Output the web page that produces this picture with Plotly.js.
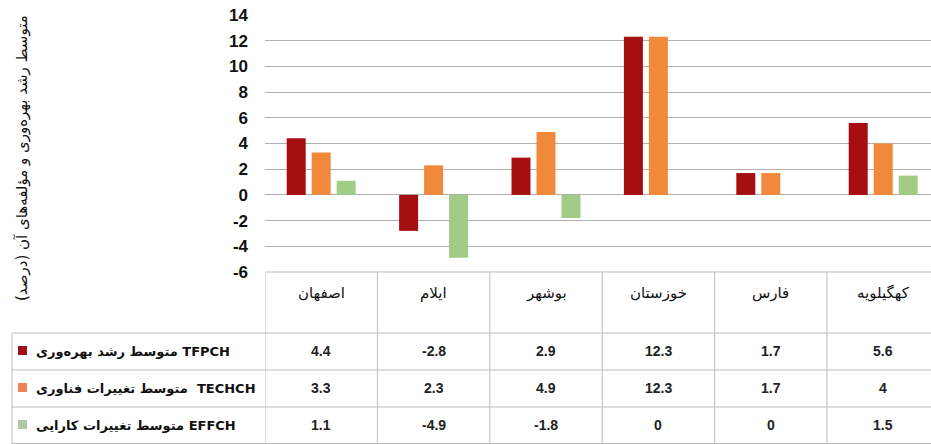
<!DOCTYPE html>
<html>
<head>
<meta charset="utf-8">
<script src="https://cdn.plot.ly/plotly-3.0.1.min.js"></script>
<style>html,body{margin:0;padding:0;background:#fff;}#chart{width:931px;height:444px;}</style>
</head>
<body>
<div id="chart"></div>
<script>
const categories = ['اصفهان', 'ایلام', 'بوشهر', 'خوزستان', 'فارس', 'کهگیلویه'];
const tfpch = [4.4, -2.8, 2.9, 12.3, 1.7, 5.6];
const techch = [3.3, 2.3, 4.9, 12.3, 1.7, 4];
const effch = [1.1, -4.9, -1.8, 0, 0, 1.5];
const seriesCodes = ['TFPCH', 'TECHCH', 'EFFCH'];
const seriesNames = ['متوسط رشد بهره‌وری', 'متوسط تغییرات فناوری', 'متوسط تغییرات کارایی'];
const yTickVals = [-6, -4, -2, 0, 2, 4, 6, 8, 10, 12, 14];
const yTickText = ['-6', '-4', '-2', '0', '2', '4', '6', '8', '10', '12', '14'];
const seriesValues = [tfpch, techch, effch];
const seriesColors = ['#A50F12', '#F08A3A', '#A2CC86'];
const legendColors = ['#A0101A', '#EE8255', '#B4C6A8'];
const yTitle = 'متوسط رشد بهره‌وری و مؤلفه‌های آن (درصد)';

const W = 931, H = 444;
const M = {l: 265, r: 0, t: 15, b: 172};
const PW = W - M.l - M.r, PH = H - M.t - M.b;
const px = x => (x - M.l) / PW;           // pixel -> paper x
const py = y => (H - M.b - y) / PH;       // pixel -> paper y

const idx = categories.map((c, i) => i);

const traces = seriesValues.map((vals, s) => ({
  type: 'bar',
  x: idx,
  y: vals,
  name: seriesCodes[s],
  marker: {color: seriesColors[s], line: {width: 0}},
  hoverinfo: 'skip'
}));

const lineColor = '#BDBDBD';
const shapes = [];
const annotations = [];

// table horizontal lines
const rowTops = [333, 370, 407];
shapes.push({type: 'line', xref: 'paper', yref: 'paper', x0: 0, x1: 1, y0: py(272), y1: py(272), line: {color: lineColor, width: 1}});
rowTops.forEach(y => shapes.push({type: 'line', xref: 'paper', yref: 'paper', x0: px(12), x1: 1, y0: py(y), y1: py(y), line: {color: lineColor, width: 1}}));
shapes.push({type: 'line', xref: 'paper', yref: 'paper', x0: px(12), x1: 1, y0: py(443.5), y1: py(443.5), line: {color: lineColor, width: 1}});
// vertical lines
shapes.push({type: 'line', xref: 'paper', yref: 'paper', x0: px(12), x1: px(12), y0: py(333), y1: py(444), line: {color: lineColor, width: 1}});
for (let k = 0; k < categories.length; k++) {
  shapes.push({type: 'line', xref: 'x', yref: 'paper', x0: k - 0.5, x1: k - 0.5, y0: py(272), y1: py(444), line: {color: lineColor, width: 1}});
}

// category header labels
categories.forEach((c, i) => annotations.push({
  xref: 'x', yref: 'paper', x: i, y: py(293), text: c, showarrow: false,
  xanchor: 'center', yanchor: 'middle',
  font: {family: 'DejaVu Sans', size: 15, color: '#111'}
}));

// table rows
const rowCenters = [351, 388, 425];
seriesValues.forEach((vals, s) => {
  vals.forEach((v, i) => annotations.push({
    xref: 'x', yref: 'paper', x: i, y: py(rowCenters[s]), text: String(v), showarrow: false,
    xanchor: 'center', yanchor: 'middle',
    font: {family: 'Liberation Sans', size: 14, color: '#222', weight: 'bold'}
  }));
  annotations.push({
    xref: 'paper', yref: 'paper', x: px(34), y: py(rowCenters[s]),
    text: seriesNames[s] + (s === 1 ? '  ' : ' ') + seriesCodes[s], showarrow: false,
    xanchor: 'left', yanchor: 'middle',
    font: {family: 'DejaVu Sans', size: 13, color: '#111', weight: 'bold'}
  });
  shapes.push({type: 'rect', xref: 'paper', yref: 'paper', x0: px(18), x1: px(27), y0: py(rowCenters[s] - 5), y1: py(rowCenters[s] + 4),
    fillcolor: legendColors[s], line: {width: 0}});
});

// y-axis title
annotations.push({
  xref: 'paper', yref: 'paper', x: px(22), y: py(158), text: yTitle, showarrow: false,
  textangle: -90, xanchor: 'center', yanchor: 'middle',
  font: {family: 'DejaVu Sans', size: 15, color: '#111'}
});

const layout = {
  width: W, height: H,
  margin: M,
  paper_bgcolor: '#fff', plot_bgcolor: '#fff',
  showlegend: false,
  barmode: 'group',
  bargap: 0.333,
  bargroupgap: 0.24,
  xaxis: {
    range: [-0.5, -0.5 + PW / 112.4],
    showticklabels: false, showgrid: false, zeroline: false, showline: false, ticks: ''
  },
  yaxis: {
    range: [-6, 14],
    tickmode: 'array', tickvals: yTickVals, ticktext: yTickText,
    showgrid: true, gridcolor: '#B0B0B0', gridwidth: 1,
    zeroline: false, showline: false, ticks: '',
    ticklabelstandoff: 16,
    tickfont: {family: 'Liberation Sans', size: 17, color: '#111', weight: 'bold'}
  },
  shapes: shapes,
  annotations: annotations,
  hovermode: false
};

Plotly.newPlot('chart', traces, layout, {displayModeBar: false, staticPlot: true});
</script>
</body>
</html>
